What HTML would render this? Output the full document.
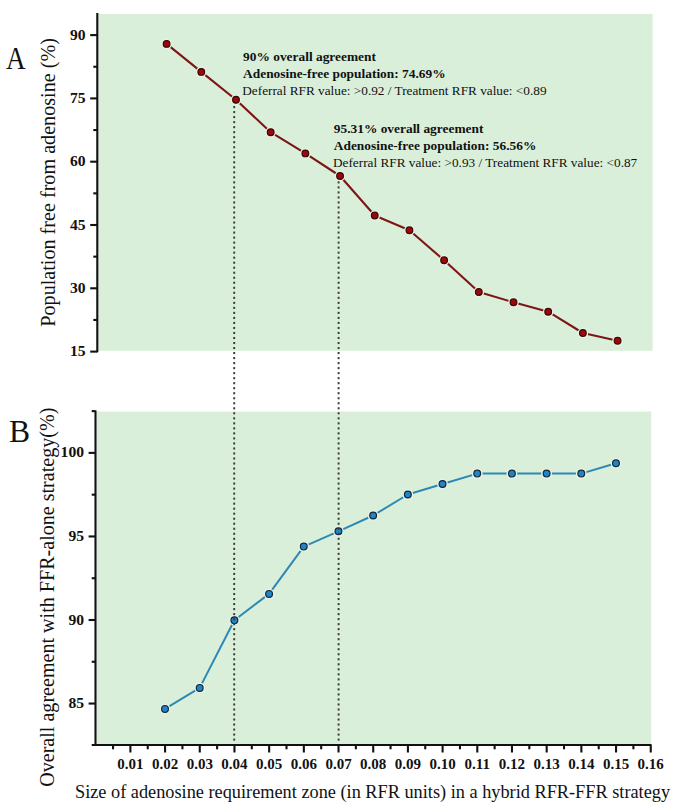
<!DOCTYPE html>
<html><head><meta charset="utf-8"><style>
html,body{margin:0;padding:0;background:#fff;}
body{width:685px;height:812px;overflow:hidden;font-family:"Liberation Serif",serif;}
svg{display:block;}
</style></head><body>
<svg width="685" height="812" viewBox="0 0 685 812">
<rect x="0" y="0" width="685" height="812" fill="#ffffff"/>
<rect x="98.3" y="14" width="554.4000000000001" height="336.8" fill="#daefda"/>
<rect x="96.5" y="411.5" width="554.8" height="332.5" fill="#daefda"/>
<rect x="233.25" y="397.19" width="1.9" height="2.1" fill="#3a3a3a"/>
<rect x="233.25" y="392.17" width="1.9" height="2.1" fill="#3a3a3a"/>
<rect x="233.25" y="387.15" width="1.9" height="2.1" fill="#3a3a3a"/>
<rect x="233.25" y="382.13" width="1.9" height="2.1" fill="#3a3a3a"/>
<rect x="233.25" y="377.11" width="1.9" height="2.1" fill="#3a3a3a"/>
<rect x="233.25" y="372.09" width="1.9" height="2.1" fill="#3a3a3a"/>
<rect x="233.25" y="367.07" width="1.9" height="2.1" fill="#3a3a3a"/>
<rect x="233.25" y="362.05" width="1.9" height="2.1" fill="#3a3a3a"/>
<rect x="233.25" y="357.03" width="1.9" height="2.1" fill="#3a3a3a"/>
<rect x="233.25" y="352.01" width="1.9" height="2.1" fill="#3a3a3a"/>
<rect x="233.25" y="346.99" width="1.9" height="2.1" fill="#3a3a3a"/>
<rect x="233.25" y="341.97" width="1.9" height="2.1" fill="#3a3a3a"/>
<rect x="233.25" y="336.95" width="1.9" height="2.1" fill="#3a3a3a"/>
<rect x="233.25" y="331.93" width="1.9" height="2.1" fill="#3a3a3a"/>
<rect x="233.25" y="326.91" width="1.9" height="2.1" fill="#3a3a3a"/>
<rect x="233.25" y="321.89" width="1.9" height="2.1" fill="#3a3a3a"/>
<rect x="233.25" y="316.87" width="1.9" height="2.1" fill="#3a3a3a"/>
<rect x="233.25" y="311.85" width="1.9" height="2.1" fill="#3a3a3a"/>
<rect x="233.25" y="306.83" width="1.9" height="2.1" fill="#3a3a3a"/>
<rect x="233.25" y="301.81" width="1.9" height="2.1" fill="#3a3a3a"/>
<rect x="233.25" y="296.79" width="1.9" height="2.1" fill="#3a3a3a"/>
<rect x="233.25" y="291.77" width="1.9" height="2.1" fill="#3a3a3a"/>
<rect x="233.25" y="286.75" width="1.9" height="2.1" fill="#3a3a3a"/>
<rect x="233.25" y="281.73" width="1.9" height="2.1" fill="#3a3a3a"/>
<rect x="233.25" y="276.71" width="1.9" height="2.1" fill="#3a3a3a"/>
<rect x="233.25" y="271.69" width="1.9" height="2.1" fill="#3a3a3a"/>
<rect x="233.25" y="266.67" width="1.9" height="2.1" fill="#3a3a3a"/>
<rect x="233.25" y="261.65" width="1.9" height="2.1" fill="#3a3a3a"/>
<rect x="233.25" y="256.63" width="1.9" height="2.1" fill="#3a3a3a"/>
<rect x="233.25" y="251.61" width="1.9" height="2.1" fill="#3a3a3a"/>
<rect x="233.25" y="246.59" width="1.9" height="2.1" fill="#3a3a3a"/>
<rect x="233.25" y="241.57" width="1.9" height="2.1" fill="#3a3a3a"/>
<rect x="233.25" y="236.55" width="1.9" height="2.1" fill="#3a3a3a"/>
<rect x="233.25" y="231.53" width="1.9" height="2.1" fill="#3a3a3a"/>
<rect x="233.25" y="226.51" width="1.9" height="2.1" fill="#3a3a3a"/>
<rect x="233.25" y="221.49" width="1.9" height="2.1" fill="#3a3a3a"/>
<rect x="233.25" y="216.47" width="1.9" height="2.1" fill="#3a3a3a"/>
<rect x="233.25" y="211.45" width="1.9" height="2.1" fill="#3a3a3a"/>
<rect x="233.25" y="206.43" width="1.9" height="2.1" fill="#3a3a3a"/>
<rect x="233.25" y="201.41" width="1.9" height="2.1" fill="#3a3a3a"/>
<rect x="233.25" y="196.39" width="1.9" height="2.1" fill="#3a3a3a"/>
<rect x="233.25" y="191.37" width="1.9" height="2.1" fill="#3a3a3a"/>
<rect x="233.25" y="186.35" width="1.9" height="2.1" fill="#3a3a3a"/>
<rect x="233.25" y="181.33" width="1.9" height="2.1" fill="#3a3a3a"/>
<rect x="233.25" y="176.31" width="1.9" height="2.1" fill="#3a3a3a"/>
<rect x="233.25" y="171.29" width="1.9" height="2.1" fill="#3a3a3a"/>
<rect x="233.25" y="166.27" width="1.9" height="2.1" fill="#3a3a3a"/>
<rect x="233.25" y="161.25" width="1.9" height="2.1" fill="#3a3a3a"/>
<rect x="233.25" y="156.23" width="1.9" height="2.1" fill="#3a3a3a"/>
<rect x="233.25" y="151.21" width="1.9" height="2.1" fill="#3a3a3a"/>
<rect x="233.25" y="146.19" width="1.9" height="2.1" fill="#3a3a3a"/>
<rect x="233.25" y="141.17" width="1.9" height="2.1" fill="#3a3a3a"/>
<rect x="233.25" y="136.15" width="1.9" height="2.1" fill="#3a3a3a"/>
<rect x="233.25" y="131.13" width="1.9" height="2.1" fill="#3a3a3a"/>
<rect x="233.25" y="126.11" width="1.9" height="2.1" fill="#3a3a3a"/>
<rect x="233.25" y="121.09" width="1.9" height="2.1" fill="#3a3a3a"/>
<rect x="233.25" y="116.07" width="1.9" height="2.1" fill="#3a3a3a"/>
<rect x="233.25" y="111.05" width="1.9" height="2.1" fill="#3a3a3a"/>
<rect x="233.25" y="106.03" width="1.9" height="2.1" fill="#3a3a3a"/>
<rect x="233.25" y="101.01" width="1.9" height="2.1" fill="#3a3a3a"/>
<rect x="337.65" y="397.19" width="1.9" height="2.1" fill="#3a3a3a"/>
<rect x="337.65" y="392.17" width="1.9" height="2.1" fill="#3a3a3a"/>
<rect x="337.65" y="387.15" width="1.9" height="2.1" fill="#3a3a3a"/>
<rect x="337.65" y="382.13" width="1.9" height="2.1" fill="#3a3a3a"/>
<rect x="337.65" y="377.11" width="1.9" height="2.1" fill="#3a3a3a"/>
<rect x="337.65" y="372.09" width="1.9" height="2.1" fill="#3a3a3a"/>
<rect x="337.65" y="367.07" width="1.9" height="2.1" fill="#3a3a3a"/>
<rect x="337.65" y="362.05" width="1.9" height="2.1" fill="#3a3a3a"/>
<rect x="337.65" y="357.03" width="1.9" height="2.1" fill="#3a3a3a"/>
<rect x="337.65" y="352.01" width="1.9" height="2.1" fill="#3a3a3a"/>
<rect x="337.65" y="346.99" width="1.9" height="2.1" fill="#3a3a3a"/>
<rect x="337.65" y="341.97" width="1.9" height="2.1" fill="#3a3a3a"/>
<rect x="337.65" y="336.95" width="1.9" height="2.1" fill="#3a3a3a"/>
<rect x="337.65" y="331.93" width="1.9" height="2.1" fill="#3a3a3a"/>
<rect x="337.65" y="326.91" width="1.9" height="2.1" fill="#3a3a3a"/>
<rect x="337.65" y="321.89" width="1.9" height="2.1" fill="#3a3a3a"/>
<rect x="337.65" y="316.87" width="1.9" height="2.1" fill="#3a3a3a"/>
<rect x="337.65" y="311.85" width="1.9" height="2.1" fill="#3a3a3a"/>
<rect x="337.65" y="306.83" width="1.9" height="2.1" fill="#3a3a3a"/>
<rect x="337.65" y="301.81" width="1.9" height="2.1" fill="#3a3a3a"/>
<rect x="337.65" y="296.79" width="1.9" height="2.1" fill="#3a3a3a"/>
<rect x="337.65" y="291.77" width="1.9" height="2.1" fill="#3a3a3a"/>
<rect x="337.65" y="286.75" width="1.9" height="2.1" fill="#3a3a3a"/>
<rect x="337.65" y="281.73" width="1.9" height="2.1" fill="#3a3a3a"/>
<rect x="337.65" y="276.71" width="1.9" height="2.1" fill="#3a3a3a"/>
<rect x="337.65" y="271.69" width="1.9" height="2.1" fill="#3a3a3a"/>
<rect x="337.65" y="266.67" width="1.9" height="2.1" fill="#3a3a3a"/>
<rect x="337.65" y="261.65" width="1.9" height="2.1" fill="#3a3a3a"/>
<rect x="337.65" y="256.63" width="1.9" height="2.1" fill="#3a3a3a"/>
<rect x="337.65" y="251.61" width="1.9" height="2.1" fill="#3a3a3a"/>
<rect x="337.65" y="246.59" width="1.9" height="2.1" fill="#3a3a3a"/>
<rect x="337.65" y="241.57" width="1.9" height="2.1" fill="#3a3a3a"/>
<rect x="337.65" y="236.55" width="1.9" height="2.1" fill="#3a3a3a"/>
<rect x="337.65" y="231.53" width="1.9" height="2.1" fill="#3a3a3a"/>
<rect x="337.65" y="226.51" width="1.9" height="2.1" fill="#3a3a3a"/>
<rect x="337.65" y="221.49" width="1.9" height="2.1" fill="#3a3a3a"/>
<rect x="337.65" y="216.47" width="1.9" height="2.1" fill="#3a3a3a"/>
<rect x="337.65" y="211.45" width="1.9" height="2.1" fill="#3a3a3a"/>
<rect x="337.65" y="206.43" width="1.9" height="2.1" fill="#3a3a3a"/>
<rect x="337.65" y="201.41" width="1.9" height="2.1" fill="#3a3a3a"/>
<rect x="337.65" y="196.39" width="1.9" height="2.1" fill="#3a3a3a"/>
<rect x="337.65" y="191.37" width="1.9" height="2.1" fill="#3a3a3a"/>
<rect x="337.65" y="186.35" width="1.9" height="2.1" fill="#3a3a3a"/>
<rect x="337.65" y="181.33" width="1.9" height="2.1" fill="#3a3a3a"/>
<line x1="97.3" y1="13" x2="97.3" y2="352.2" stroke="#111" stroke-width="2.1"/>
<line x1="90.2" y1="35.10" x2="97.3" y2="35.10" stroke="#111" stroke-width="2.1"/>
<line x1="90.2" y1="98.40" x2="97.3" y2="98.40" stroke="#111" stroke-width="2.1"/>
<line x1="90.2" y1="161.70" x2="97.3" y2="161.70" stroke="#111" stroke-width="2.1"/>
<line x1="90.2" y1="225.00" x2="97.3" y2="225.00" stroke="#111" stroke-width="2.1"/>
<line x1="90.2" y1="288.30" x2="97.3" y2="288.30" stroke="#111" stroke-width="2.1"/>
<line x1="90.2" y1="351.60" x2="97.3" y2="351.60" stroke="#111" stroke-width="2.1"/>
<line x1="93.3" y1="66.75" x2="97.3" y2="66.75" stroke="#111" stroke-width="2.1"/>
<line x1="93.3" y1="130.05" x2="97.3" y2="130.05" stroke="#111" stroke-width="2.1"/>
<line x1="93.3" y1="193.35" x2="97.3" y2="193.35" stroke="#111" stroke-width="2.1"/>
<line x1="93.3" y1="256.65" x2="97.3" y2="256.65" stroke="#111" stroke-width="2.1"/>
<line x1="93.3" y1="319.95" x2="97.3" y2="319.95" stroke="#111" stroke-width="2.1"/>
<line x1="95.5" y1="410.5" x2="95.5" y2="745" stroke="#111" stroke-width="2.1"/>
<line x1="88.6" y1="452.90" x2="95.5" y2="452.90" stroke="#111" stroke-width="2.1"/>
<line x1="88.6" y1="536.45" x2="95.5" y2="536.45" stroke="#111" stroke-width="2.1"/>
<line x1="88.6" y1="620.00" x2="95.5" y2="620.00" stroke="#111" stroke-width="2.1"/>
<line x1="88.6" y1="703.55" x2="95.5" y2="703.55" stroke="#111" stroke-width="2.1"/>
<line x1="91.7" y1="411.12" x2="95.5" y2="411.12" stroke="#111" stroke-width="2.1"/>
<line x1="91.7" y1="494.67" x2="95.5" y2="494.67" stroke="#111" stroke-width="2.1"/>
<line x1="91.7" y1="578.23" x2="95.5" y2="578.23" stroke="#111" stroke-width="2.1"/>
<line x1="91.7" y1="661.77" x2="95.5" y2="661.77" stroke="#111" stroke-width="2.1"/>
<line x1="91.7" y1="745" x2="651.5" y2="745" stroke="#111" stroke-width="2.1"/>
<line x1="130.39" y1="745" x2="130.39" y2="752.5" stroke="#111" stroke-width="2.1"/>
<line x1="165.08" y1="745" x2="165.08" y2="752.5" stroke="#111" stroke-width="2.1"/>
<line x1="199.77" y1="745" x2="199.77" y2="752.5" stroke="#111" stroke-width="2.1"/>
<line x1="234.46" y1="745" x2="234.46" y2="752.5" stroke="#111" stroke-width="2.1"/>
<line x1="269.15" y1="745" x2="269.15" y2="752.5" stroke="#111" stroke-width="2.1"/>
<line x1="303.84" y1="745" x2="303.84" y2="752.5" stroke="#111" stroke-width="2.1"/>
<line x1="338.53" y1="745" x2="338.53" y2="752.5" stroke="#111" stroke-width="2.1"/>
<line x1="373.22" y1="745" x2="373.22" y2="752.5" stroke="#111" stroke-width="2.1"/>
<line x1="407.91" y1="745" x2="407.91" y2="752.5" stroke="#111" stroke-width="2.1"/>
<line x1="442.60" y1="745" x2="442.60" y2="752.5" stroke="#111" stroke-width="2.1"/>
<line x1="477.29" y1="745" x2="477.29" y2="752.5" stroke="#111" stroke-width="2.1"/>
<line x1="511.98" y1="745" x2="511.98" y2="752.5" stroke="#111" stroke-width="2.1"/>
<line x1="546.67" y1="745" x2="546.67" y2="752.5" stroke="#111" stroke-width="2.1"/>
<line x1="581.36" y1="745" x2="581.36" y2="752.5" stroke="#111" stroke-width="2.1"/>
<line x1="616.05" y1="745" x2="616.05" y2="752.5" stroke="#111" stroke-width="2.1"/>
<line x1="650.74" y1="745" x2="650.74" y2="752.5" stroke="#111" stroke-width="2.1"/>
<line x1="113.05" y1="745" x2="113.05" y2="749.3" stroke="#111" stroke-width="2.1"/>
<line x1="147.74" y1="745" x2="147.74" y2="749.3" stroke="#111" stroke-width="2.1"/>
<line x1="182.43" y1="745" x2="182.43" y2="749.3" stroke="#111" stroke-width="2.1"/>
<line x1="217.12" y1="745" x2="217.12" y2="749.3" stroke="#111" stroke-width="2.1"/>
<line x1="251.81" y1="745" x2="251.81" y2="749.3" stroke="#111" stroke-width="2.1"/>
<line x1="286.50" y1="745" x2="286.50" y2="749.3" stroke="#111" stroke-width="2.1"/>
<line x1="321.19" y1="745" x2="321.19" y2="749.3" stroke="#111" stroke-width="2.1"/>
<line x1="355.88" y1="745" x2="355.88" y2="749.3" stroke="#111" stroke-width="2.1"/>
<line x1="390.56" y1="745" x2="390.56" y2="749.3" stroke="#111" stroke-width="2.1"/>
<line x1="425.25" y1="745" x2="425.25" y2="749.3" stroke="#111" stroke-width="2.1"/>
<line x1="459.95" y1="745" x2="459.95" y2="749.3" stroke="#111" stroke-width="2.1"/>
<line x1="494.63" y1="745" x2="494.63" y2="749.3" stroke="#111" stroke-width="2.1"/>
<line x1="529.33" y1="745" x2="529.33" y2="749.3" stroke="#111" stroke-width="2.1"/>
<line x1="564.02" y1="745" x2="564.02" y2="749.3" stroke="#111" stroke-width="2.1"/>
<line x1="598.71" y1="745" x2="598.71" y2="749.3" stroke="#111" stroke-width="2.1"/>
<line x1="633.40" y1="745" x2="633.40" y2="749.3" stroke="#111" stroke-width="2.1"/>
<polyline points="166.60,43.90 201.29,71.90 235.98,99.80 270.67,132.20 305.36,153.40 340.05,176.00 374.74,215.50 409.43,230.30 444.12,260.30 478.81,292.00 513.50,302.30 548.19,311.70 582.88,333.00 617.57,340.70" fill="none" stroke="#7c1616" stroke-width="2.1" stroke-linejoin="round"/>
<circle cx="166.60" cy="43.90" r="5.3" fill="#e6f3e6"/>
<circle cx="166.60" cy="43.90" r="3.35" fill="#9e0707" stroke="#380808" stroke-width="1.2"/>
<circle cx="201.29" cy="71.90" r="5.3" fill="#e6f3e6"/>
<circle cx="201.29" cy="71.90" r="3.35" fill="#9e0707" stroke="#380808" stroke-width="1.2"/>
<circle cx="235.98" cy="99.80" r="5.3" fill="#e6f3e6"/>
<circle cx="235.98" cy="99.80" r="3.35" fill="#9e0707" stroke="#380808" stroke-width="1.2"/>
<circle cx="270.67" cy="132.20" r="5.3" fill="#e6f3e6"/>
<circle cx="270.67" cy="132.20" r="3.35" fill="#9e0707" stroke="#380808" stroke-width="1.2"/>
<circle cx="305.36" cy="153.40" r="5.3" fill="#e6f3e6"/>
<circle cx="305.36" cy="153.40" r="3.35" fill="#9e0707" stroke="#380808" stroke-width="1.2"/>
<circle cx="340.05" cy="176.00" r="5.3" fill="#e6f3e6"/>
<circle cx="340.05" cy="176.00" r="3.35" fill="#9e0707" stroke="#380808" stroke-width="1.2"/>
<circle cx="374.74" cy="215.50" r="5.3" fill="#e6f3e6"/>
<circle cx="374.74" cy="215.50" r="3.35" fill="#9e0707" stroke="#380808" stroke-width="1.2"/>
<circle cx="409.43" cy="230.30" r="5.3" fill="#e6f3e6"/>
<circle cx="409.43" cy="230.30" r="3.35" fill="#9e0707" stroke="#380808" stroke-width="1.2"/>
<circle cx="444.12" cy="260.30" r="5.3" fill="#e6f3e6"/>
<circle cx="444.12" cy="260.30" r="3.35" fill="#9e0707" stroke="#380808" stroke-width="1.2"/>
<circle cx="478.81" cy="292.00" r="5.3" fill="#e6f3e6"/>
<circle cx="478.81" cy="292.00" r="3.35" fill="#9e0707" stroke="#380808" stroke-width="1.2"/>
<circle cx="513.50" cy="302.30" r="5.3" fill="#e6f3e6"/>
<circle cx="513.50" cy="302.30" r="3.35" fill="#9e0707" stroke="#380808" stroke-width="1.2"/>
<circle cx="548.19" cy="311.70" r="5.3" fill="#e6f3e6"/>
<circle cx="548.19" cy="311.70" r="3.35" fill="#9e0707" stroke="#380808" stroke-width="1.2"/>
<circle cx="582.88" cy="333.00" r="5.3" fill="#e6f3e6"/>
<circle cx="582.88" cy="333.00" r="3.35" fill="#9e0707" stroke="#380808" stroke-width="1.2"/>
<circle cx="617.57" cy="340.70" r="5.3" fill="#e6f3e6"/>
<circle cx="617.57" cy="340.70" r="3.35" fill="#9e0707" stroke="#380808" stroke-width="1.2"/>
<polyline points="165.00,708.90 199.69,687.90 234.38,620.20 269.07,593.90 303.76,546.60 338.45,531.30 373.14,515.50 407.83,494.50 442.52,484.00 477.21,473.60 511.90,473.60 546.59,473.60 581.28,473.60 615.97,463.30" fill="none" stroke="#2e88b6" stroke-width="2.0" stroke-linejoin="round"/>
<circle cx="165.00" cy="708.90" r="5.4" fill="#e6f3e6"/>
<circle cx="199.69" cy="687.90" r="5.4" fill="#e6f3e6"/>
<circle cx="234.38" cy="620.20" r="5.4" fill="#e6f3e6"/>
<circle cx="269.07" cy="593.90" r="5.4" fill="#e6f3e6"/>
<circle cx="303.76" cy="546.60" r="5.4" fill="#e6f3e6"/>
<circle cx="338.45" cy="531.30" r="5.4" fill="#e6f3e6"/>
<circle cx="373.14" cy="515.50" r="5.4" fill="#e6f3e6"/>
<circle cx="407.83" cy="494.50" r="5.4" fill="#e6f3e6"/>
<circle cx="442.52" cy="484.00" r="5.4" fill="#e6f3e6"/>
<circle cx="477.21" cy="473.60" r="5.4" fill="#e6f3e6"/>
<circle cx="511.90" cy="473.60" r="5.4" fill="#e6f3e6"/>
<circle cx="546.59" cy="473.60" r="5.4" fill="#e6f3e6"/>
<circle cx="581.28" cy="473.60" r="5.4" fill="#e6f3e6"/>
<circle cx="615.97" cy="463.30" r="5.4" fill="#e6f3e6"/>
<circle cx="165.00" cy="708.90" r="3.4" fill="#1f86c6" stroke="#14263a" stroke-width="1.2"/>
<circle cx="199.69" cy="687.90" r="3.4" fill="#1f86c6" stroke="#14263a" stroke-width="1.2"/>
<circle cx="234.38" cy="620.20" r="3.4" fill="#1f86c6" stroke="#14263a" stroke-width="1.2"/>
<circle cx="269.07" cy="593.90" r="3.4" fill="#1f86c6" stroke="#14263a" stroke-width="1.2"/>
<circle cx="303.76" cy="546.60" r="3.4" fill="#1f86c6" stroke="#14263a" stroke-width="1.2"/>
<circle cx="338.45" cy="531.30" r="3.4" fill="#1f86c6" stroke="#14263a" stroke-width="1.2"/>
<circle cx="373.14" cy="515.50" r="3.4" fill="#1f86c6" stroke="#14263a" stroke-width="1.2"/>
<circle cx="407.83" cy="494.50" r="3.4" fill="#1f86c6" stroke="#14263a" stroke-width="1.2"/>
<circle cx="442.52" cy="484.00" r="3.4" fill="#1f86c6" stroke="#14263a" stroke-width="1.2"/>
<circle cx="477.21" cy="473.60" r="3.4" fill="#1f86c6" stroke="#14263a" stroke-width="1.2"/>
<circle cx="511.90" cy="473.60" r="3.4" fill="#1f86c6" stroke="#14263a" stroke-width="1.2"/>
<circle cx="546.59" cy="473.60" r="3.4" fill="#1f86c6" stroke="#14263a" stroke-width="1.2"/>
<circle cx="581.28" cy="473.60" r="3.4" fill="#1f86c6" stroke="#14263a" stroke-width="1.2"/>
<circle cx="615.97" cy="463.30" r="3.4" fill="#1f86c6" stroke="#14263a" stroke-width="1.2"/>
<rect x="233.25" y="738.55" width="1.9" height="2.1" fill="#3a3a3a"/>
<rect x="233.25" y="733.53" width="1.9" height="2.1" fill="#3a3a3a"/>
<rect x="233.25" y="728.51" width="1.9" height="2.1" fill="#3a3a3a"/>
<rect x="233.25" y="723.49" width="1.9" height="2.1" fill="#3a3a3a"/>
<rect x="233.25" y="718.47" width="1.9" height="2.1" fill="#3a3a3a"/>
<rect x="233.25" y="713.45" width="1.9" height="2.1" fill="#3a3a3a"/>
<rect x="233.25" y="708.43" width="1.9" height="2.1" fill="#3a3a3a"/>
<rect x="233.25" y="703.41" width="1.9" height="2.1" fill="#3a3a3a"/>
<rect x="233.25" y="698.39" width="1.9" height="2.1" fill="#3a3a3a"/>
<rect x="233.25" y="693.37" width="1.9" height="2.1" fill="#3a3a3a"/>
<rect x="233.25" y="688.35" width="1.9" height="2.1" fill="#3a3a3a"/>
<rect x="233.25" y="683.33" width="1.9" height="2.1" fill="#3a3a3a"/>
<rect x="233.25" y="678.31" width="1.9" height="2.1" fill="#3a3a3a"/>
<rect x="233.25" y="673.29" width="1.9" height="2.1" fill="#3a3a3a"/>
<rect x="233.25" y="668.27" width="1.9" height="2.1" fill="#3a3a3a"/>
<rect x="233.25" y="663.25" width="1.9" height="2.1" fill="#3a3a3a"/>
<rect x="233.25" y="658.23" width="1.9" height="2.1" fill="#3a3a3a"/>
<rect x="233.25" y="653.21" width="1.9" height="2.1" fill="#3a3a3a"/>
<rect x="233.25" y="648.19" width="1.9" height="2.1" fill="#3a3a3a"/>
<rect x="233.25" y="643.17" width="1.9" height="2.1" fill="#3a3a3a"/>
<rect x="233.25" y="638.15" width="1.9" height="2.1" fill="#3a3a3a"/>
<rect x="233.25" y="633.13" width="1.9" height="2.1" fill="#3a3a3a"/>
<rect x="233.25" y="628.11" width="1.9" height="2.1" fill="#3a3a3a"/>
<rect x="233.25" y="623.09" width="1.9" height="2.1" fill="#3a3a3a"/>
<rect x="233.25" y="618.07" width="1.9" height="2.1" fill="#3a3a3a"/>
<rect x="233.25" y="613.05" width="1.9" height="2.1" fill="#3a3a3a"/>
<rect x="233.25" y="608.03" width="1.9" height="2.1" fill="#3a3a3a"/>
<rect x="233.25" y="603.01" width="1.9" height="2.1" fill="#3a3a3a"/>
<rect x="233.25" y="597.99" width="1.9" height="2.1" fill="#3a3a3a"/>
<rect x="233.25" y="592.97" width="1.9" height="2.1" fill="#3a3a3a"/>
<rect x="233.25" y="587.95" width="1.9" height="2.1" fill="#3a3a3a"/>
<rect x="233.25" y="582.93" width="1.9" height="2.1" fill="#3a3a3a"/>
<rect x="233.25" y="577.91" width="1.9" height="2.1" fill="#3a3a3a"/>
<rect x="233.25" y="572.89" width="1.9" height="2.1" fill="#3a3a3a"/>
<rect x="233.25" y="567.87" width="1.9" height="2.1" fill="#3a3a3a"/>
<rect x="233.25" y="562.85" width="1.9" height="2.1" fill="#3a3a3a"/>
<rect x="233.25" y="557.83" width="1.9" height="2.1" fill="#3a3a3a"/>
<rect x="233.25" y="552.81" width="1.9" height="2.1" fill="#3a3a3a"/>
<rect x="233.25" y="547.79" width="1.9" height="2.1" fill="#3a3a3a"/>
<rect x="233.25" y="542.77" width="1.9" height="2.1" fill="#3a3a3a"/>
<rect x="233.25" y="537.75" width="1.9" height="2.1" fill="#3a3a3a"/>
<rect x="233.25" y="532.73" width="1.9" height="2.1" fill="#3a3a3a"/>
<rect x="233.25" y="527.71" width="1.9" height="2.1" fill="#3a3a3a"/>
<rect x="233.25" y="522.69" width="1.9" height="2.1" fill="#3a3a3a"/>
<rect x="233.25" y="517.67" width="1.9" height="2.1" fill="#3a3a3a"/>
<rect x="233.25" y="512.65" width="1.9" height="2.1" fill="#3a3a3a"/>
<rect x="233.25" y="507.63" width="1.9" height="2.1" fill="#3a3a3a"/>
<rect x="233.25" y="502.61" width="1.9" height="2.1" fill="#3a3a3a"/>
<rect x="233.25" y="497.59" width="1.9" height="2.1" fill="#3a3a3a"/>
<rect x="233.25" y="492.57" width="1.9" height="2.1" fill="#3a3a3a"/>
<rect x="233.25" y="487.55" width="1.9" height="2.1" fill="#3a3a3a"/>
<rect x="233.25" y="482.53" width="1.9" height="2.1" fill="#3a3a3a"/>
<rect x="233.25" y="477.51" width="1.9" height="2.1" fill="#3a3a3a"/>
<rect x="233.25" y="472.49" width="1.9" height="2.1" fill="#3a3a3a"/>
<rect x="233.25" y="467.47" width="1.9" height="2.1" fill="#3a3a3a"/>
<rect x="233.25" y="462.45" width="1.9" height="2.1" fill="#3a3a3a"/>
<rect x="233.25" y="457.43" width="1.9" height="2.1" fill="#3a3a3a"/>
<rect x="233.25" y="452.41" width="1.9" height="2.1" fill="#3a3a3a"/>
<rect x="233.25" y="447.39" width="1.9" height="2.1" fill="#3a3a3a"/>
<rect x="233.25" y="442.37" width="1.9" height="2.1" fill="#3a3a3a"/>
<rect x="233.25" y="437.35" width="1.9" height="2.1" fill="#3a3a3a"/>
<rect x="233.25" y="432.33" width="1.9" height="2.1" fill="#3a3a3a"/>
<rect x="233.25" y="427.31" width="1.9" height="2.1" fill="#3a3a3a"/>
<rect x="233.25" y="422.29" width="1.9" height="2.1" fill="#3a3a3a"/>
<rect x="233.25" y="417.27" width="1.9" height="2.1" fill="#3a3a3a"/>
<rect x="233.25" y="412.25" width="1.9" height="2.1" fill="#3a3a3a"/>
<rect x="233.25" y="407.23" width="1.9" height="2.1" fill="#3a3a3a"/>
<rect x="233.25" y="402.21" width="1.9" height="2.1" fill="#3a3a3a"/>
<rect x="337.65" y="738.55" width="1.9" height="2.1" fill="#3a3a3a"/>
<rect x="337.65" y="733.53" width="1.9" height="2.1" fill="#3a3a3a"/>
<rect x="337.65" y="728.51" width="1.9" height="2.1" fill="#3a3a3a"/>
<rect x="337.65" y="723.49" width="1.9" height="2.1" fill="#3a3a3a"/>
<rect x="337.65" y="718.47" width="1.9" height="2.1" fill="#3a3a3a"/>
<rect x="337.65" y="713.45" width="1.9" height="2.1" fill="#3a3a3a"/>
<rect x="337.65" y="708.43" width="1.9" height="2.1" fill="#3a3a3a"/>
<rect x="337.65" y="703.41" width="1.9" height="2.1" fill="#3a3a3a"/>
<rect x="337.65" y="698.39" width="1.9" height="2.1" fill="#3a3a3a"/>
<rect x="337.65" y="693.37" width="1.9" height="2.1" fill="#3a3a3a"/>
<rect x="337.65" y="688.35" width="1.9" height="2.1" fill="#3a3a3a"/>
<rect x="337.65" y="683.33" width="1.9" height="2.1" fill="#3a3a3a"/>
<rect x="337.65" y="678.31" width="1.9" height="2.1" fill="#3a3a3a"/>
<rect x="337.65" y="673.29" width="1.9" height="2.1" fill="#3a3a3a"/>
<rect x="337.65" y="668.27" width="1.9" height="2.1" fill="#3a3a3a"/>
<rect x="337.65" y="663.25" width="1.9" height="2.1" fill="#3a3a3a"/>
<rect x="337.65" y="658.23" width="1.9" height="2.1" fill="#3a3a3a"/>
<rect x="337.65" y="653.21" width="1.9" height="2.1" fill="#3a3a3a"/>
<rect x="337.65" y="648.19" width="1.9" height="2.1" fill="#3a3a3a"/>
<rect x="337.65" y="643.17" width="1.9" height="2.1" fill="#3a3a3a"/>
<rect x="337.65" y="638.15" width="1.9" height="2.1" fill="#3a3a3a"/>
<rect x="337.65" y="633.13" width="1.9" height="2.1" fill="#3a3a3a"/>
<rect x="337.65" y="628.11" width="1.9" height="2.1" fill="#3a3a3a"/>
<rect x="337.65" y="623.09" width="1.9" height="2.1" fill="#3a3a3a"/>
<rect x="337.65" y="618.07" width="1.9" height="2.1" fill="#3a3a3a"/>
<rect x="337.65" y="613.05" width="1.9" height="2.1" fill="#3a3a3a"/>
<rect x="337.65" y="608.03" width="1.9" height="2.1" fill="#3a3a3a"/>
<rect x="337.65" y="603.01" width="1.9" height="2.1" fill="#3a3a3a"/>
<rect x="337.65" y="597.99" width="1.9" height="2.1" fill="#3a3a3a"/>
<rect x="337.65" y="592.97" width="1.9" height="2.1" fill="#3a3a3a"/>
<rect x="337.65" y="587.95" width="1.9" height="2.1" fill="#3a3a3a"/>
<rect x="337.65" y="582.93" width="1.9" height="2.1" fill="#3a3a3a"/>
<rect x="337.65" y="577.91" width="1.9" height="2.1" fill="#3a3a3a"/>
<rect x="337.65" y="572.89" width="1.9" height="2.1" fill="#3a3a3a"/>
<rect x="337.65" y="567.87" width="1.9" height="2.1" fill="#3a3a3a"/>
<rect x="337.65" y="562.85" width="1.9" height="2.1" fill="#3a3a3a"/>
<rect x="337.65" y="557.83" width="1.9" height="2.1" fill="#3a3a3a"/>
<rect x="337.65" y="552.81" width="1.9" height="2.1" fill="#3a3a3a"/>
<rect x="337.65" y="547.79" width="1.9" height="2.1" fill="#3a3a3a"/>
<rect x="337.65" y="542.77" width="1.9" height="2.1" fill="#3a3a3a"/>
<rect x="337.65" y="537.75" width="1.9" height="2.1" fill="#3a3a3a"/>
<rect x="337.65" y="532.73" width="1.9" height="2.1" fill="#3a3a3a"/>
<rect x="337.65" y="527.71" width="1.9" height="2.1" fill="#3a3a3a"/>
<rect x="337.65" y="522.69" width="1.9" height="2.1" fill="#3a3a3a"/>
<rect x="337.65" y="517.67" width="1.9" height="2.1" fill="#3a3a3a"/>
<rect x="337.65" y="512.65" width="1.9" height="2.1" fill="#3a3a3a"/>
<rect x="337.65" y="507.63" width="1.9" height="2.1" fill="#3a3a3a"/>
<rect x="337.65" y="502.61" width="1.9" height="2.1" fill="#3a3a3a"/>
<rect x="337.65" y="497.59" width="1.9" height="2.1" fill="#3a3a3a"/>
<rect x="337.65" y="492.57" width="1.9" height="2.1" fill="#3a3a3a"/>
<rect x="337.65" y="487.55" width="1.9" height="2.1" fill="#3a3a3a"/>
<rect x="337.65" y="482.53" width="1.9" height="2.1" fill="#3a3a3a"/>
<rect x="337.65" y="477.51" width="1.9" height="2.1" fill="#3a3a3a"/>
<rect x="337.65" y="472.49" width="1.9" height="2.1" fill="#3a3a3a"/>
<rect x="337.65" y="467.47" width="1.9" height="2.1" fill="#3a3a3a"/>
<rect x="337.65" y="462.45" width="1.9" height="2.1" fill="#3a3a3a"/>
<rect x="337.65" y="457.43" width="1.9" height="2.1" fill="#3a3a3a"/>
<rect x="337.65" y="452.41" width="1.9" height="2.1" fill="#3a3a3a"/>
<rect x="337.65" y="447.39" width="1.9" height="2.1" fill="#3a3a3a"/>
<rect x="337.65" y="442.37" width="1.9" height="2.1" fill="#3a3a3a"/>
<rect x="337.65" y="437.35" width="1.9" height="2.1" fill="#3a3a3a"/>
<rect x="337.65" y="432.33" width="1.9" height="2.1" fill="#3a3a3a"/>
<rect x="337.65" y="427.31" width="1.9" height="2.1" fill="#3a3a3a"/>
<rect x="337.65" y="422.29" width="1.9" height="2.1" fill="#3a3a3a"/>
<rect x="337.65" y="417.27" width="1.9" height="2.1" fill="#3a3a3a"/>
<rect x="337.65" y="412.25" width="1.9" height="2.1" fill="#3a3a3a"/>
<rect x="337.65" y="407.23" width="1.9" height="2.1" fill="#3a3a3a"/>
<rect x="337.65" y="402.21" width="1.9" height="2.1" fill="#3a3a3a"/>
<text x="85.5" y="39.60" font-family="Liberation Serif, serif" font-size="15.6" font-weight="bold" text-anchor="end" fill="#111" >90</text>
<text x="85.5" y="102.90" font-family="Liberation Serif, serif" font-size="15.6" font-weight="bold" text-anchor="end" fill="#111" >75</text>
<text x="85.5" y="166.20" font-family="Liberation Serif, serif" font-size="15.6" font-weight="bold" text-anchor="end" fill="#111" >60</text>
<text x="85.5" y="229.50" font-family="Liberation Serif, serif" font-size="15.6" font-weight="bold" text-anchor="end" fill="#111" >45</text>
<text x="85.5" y="292.80" font-family="Liberation Serif, serif" font-size="15.6" font-weight="bold" text-anchor="end" fill="#111" >30</text>
<text x="85.5" y="356.10" font-family="Liberation Serif, serif" font-size="15.6" font-weight="bold" text-anchor="end" fill="#111" >15</text>
<text x="84.0" y="457.40" font-family="Liberation Serif, serif" font-size="15.6" font-weight="bold" text-anchor="end" fill="#111" >100</text>
<text x="84.0" y="540.95" font-family="Liberation Serif, serif" font-size="15.6" font-weight="bold" text-anchor="end" fill="#111" >95</text>
<text x="84.0" y="624.50" font-family="Liberation Serif, serif" font-size="15.6" font-weight="bold" text-anchor="end" fill="#111" >90</text>
<text x="84.0" y="708.05" font-family="Liberation Serif, serif" font-size="15.6" font-weight="bold" text-anchor="end" fill="#111" >85</text>
<text x="130.39" y="769" font-family="Liberation Serif, serif" font-size="15" font-weight="bold" text-anchor="middle" fill="#111" >0.01</text>
<text x="165.08" y="769" font-family="Liberation Serif, serif" font-size="15" font-weight="bold" text-anchor="middle" fill="#111" >0.02</text>
<text x="199.77" y="769" font-family="Liberation Serif, serif" font-size="15" font-weight="bold" text-anchor="middle" fill="#111" >0.03</text>
<text x="234.46" y="769" font-family="Liberation Serif, serif" font-size="15" font-weight="bold" text-anchor="middle" fill="#111" >0.04</text>
<text x="269.15" y="769" font-family="Liberation Serif, serif" font-size="15" font-weight="bold" text-anchor="middle" fill="#111" >0.05</text>
<text x="303.84" y="769" font-family="Liberation Serif, serif" font-size="15" font-weight="bold" text-anchor="middle" fill="#111" >0.06</text>
<text x="338.53" y="769" font-family="Liberation Serif, serif" font-size="15" font-weight="bold" text-anchor="middle" fill="#111" >0.07</text>
<text x="373.22" y="769" font-family="Liberation Serif, serif" font-size="15" font-weight="bold" text-anchor="middle" fill="#111" >0.08</text>
<text x="407.91" y="769" font-family="Liberation Serif, serif" font-size="15" font-weight="bold" text-anchor="middle" fill="#111" >0.09</text>
<text x="442.60" y="769" font-family="Liberation Serif, serif" font-size="15" font-weight="bold" text-anchor="middle" fill="#111" >0.10</text>
<text x="477.29" y="769" font-family="Liberation Serif, serif" font-size="15" font-weight="bold" text-anchor="middle" fill="#111" >0.11</text>
<text x="511.98" y="769" font-family="Liberation Serif, serif" font-size="15" font-weight="bold" text-anchor="middle" fill="#111" >0.12</text>
<text x="546.67" y="769" font-family="Liberation Serif, serif" font-size="15" font-weight="bold" text-anchor="middle" fill="#111" >0.13</text>
<text x="581.36" y="769" font-family="Liberation Serif, serif" font-size="15" font-weight="bold" text-anchor="middle" fill="#111" >0.14</text>
<text x="616.05" y="769" font-family="Liberation Serif, serif" font-size="15" font-weight="bold" text-anchor="middle" fill="#111" >0.15</text>
<text x="650.74" y="769" font-family="Liberation Serif, serif" font-size="15" font-weight="bold" text-anchor="middle" fill="#111" >0.16</text>
<text x="75" y="797.8" font-family="Liberation Serif, serif" font-size="18.3" text-anchor="start" fill="#111" >Size of adenosine requirement zone (in RFR units) in a hybrid RFR-FFR strategy</text>
<text x="0" y="0" font-family="Liberation Serif, serif" font-size="20.15" text-anchor="middle" fill="#111" transform="translate(54.5,182.4) rotate(-90)">Population free from adenosine (%)</text>
<text x="0" y="0" font-family="Liberation Serif, serif" font-size="20.08" text-anchor="middle" fill="#111" transform="translate(53.8,597.2) rotate(-90)">Overall agreement with FFR-alone strategy(%)</text>
<text x="0" y="0" font-family="Liberation Serif, serif" font-size="32" text-anchor="start" fill="#111" transform="translate(5.9,68.9) scale(0.85,1.01)">A</text>
<text x="0" y="0" font-family="Liberation Serif, serif" font-size="32.6" text-anchor="start" fill="#111" transform="translate(8.9,441.5) scale(0.97,1)">B</text>
<text x="243.1" y="60.8" font-family="Liberation Serif, serif" font-size="13.4" font-weight="bold" text-anchor="start" fill="#111" >90% overall agreement</text>
<text x="243.1" y="77.69999999999999" font-family="Liberation Serif, serif" font-size="13.4" font-weight="bold" text-anchor="start" fill="#111" >Adenosine-free population: 74.69%</text>
<text x="242.29999999999998" y="94.5" font-family="Liberation Serif, serif" font-size="13.26" text-anchor="start" fill="#111" >Deferral RFR value: &gt;0.92 / Treatment RFR value: &lt;0.89</text>
<text x="333.8" y="132.8" font-family="Liberation Serif, serif" font-size="13.4" font-weight="bold" text-anchor="start" fill="#111" >95.31% overall agreement</text>
<text x="333.8" y="149.70000000000002" font-family="Liberation Serif, serif" font-size="13.4" font-weight="bold" text-anchor="start" fill="#111" >Adenosine-free population: 56.56%</text>
<text x="333.0" y="166.5" font-family="Liberation Serif, serif" font-size="13.26" text-anchor="start" fill="#111" >Deferral RFR value: &gt;0.93 / Treatment RFR value: &lt;0.87</text>
</svg>
</body></html>
